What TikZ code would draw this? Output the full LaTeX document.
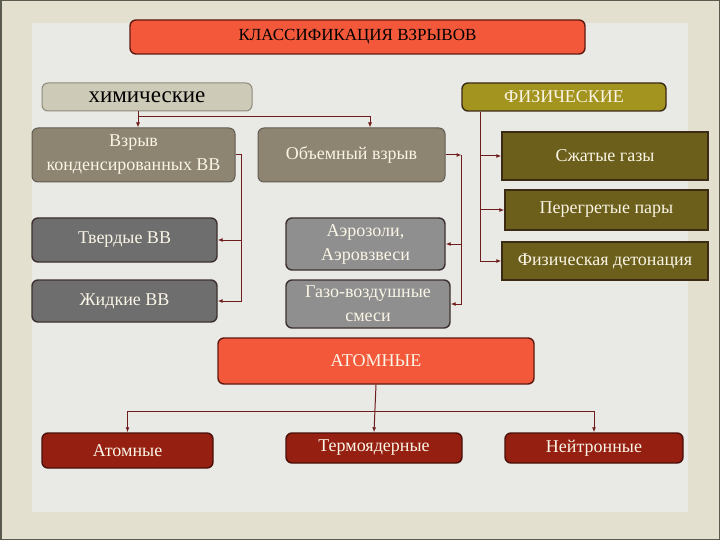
\documentclass[tikz,border=0pt]{standalone}
\usepackage{fontspec}
\setmainfont{Liberation Serif}
\usetikzlibrary{arrows.meta,positioning}
\definecolor{pagebg}{HTML}{E3E0D0}
\definecolor{innerbg}{HTML}{E9E9E6}
\definecolor{framecol}{HTML}{5A5A4E}
\definecolor{redhead}{HTML}{F4583A}
\definecolor{redline}{HTML}{5E1A10}
\definecolor{chemfill}{HTML}{CECAB8}
\definecolor{chemline}{HTML}{8E8A7A}
\definecolor{physfill}{HTML}{A39420}
\definecolor{olivedark}{HTML}{6B5F1B}
\definecolor{oliveline}{HTML}{3B2A14}
\definecolor{taupe}{HTML}{8D8472}
\definecolor{greydark}{HTML}{6E6E6E}
\definecolor{greylight}{HTML}{8F8F8F}
\definecolor{boxline}{HTML}{3E3030}
\definecolor{nucfill}{HTML}{952012}
\definecolor{nucline}{HTML}{4A1008}
\definecolor{linkcol}{HTML}{6E1C1C}
\definecolor{cream}{HTML}{FAF5E6}

\begin{document}
\begin{tikzpicture}[
    x=1pt, y=-1pt,
    box/.style={rounded corners=6pt, align=center, inner sep=2pt, line width=1.4pt, text=cream,
        font=\rmfamily\fontsize{18}{24}\selectfont},
    headbox/.style={box, fill=redhead, draw=redline},
    chembox/.style={box, fill=chemfill, draw=chemline, line width=1pt, text=black, font=\rmfamily\fontsize{23}{26}\selectfont},
    physbox/.style={box, fill=physfill, draw=oliveline},
    kindbox/.style={box, fill=taupe, draw=taupe!70!black, line width=1pt},
    subbox/.style={box, fill=greydark, draw=boxline},
    aerobox/.style={box, fill=greylight, draw=boxline},
    olivebox/.style={box, rounded corners=0pt, fill=olivedark, draw=oliveline},
    nucbox/.style={box, fill=nucfill, draw=nucline},
    link/.style={draw=linkcol, line width=1pt},
    arrow/.style={link, -{Latex[length=5pt,width=4pt]}}
]
\fill[pagebg] (0,0) rectangle (720,540);
\fill[innerbg] (32,23) rectangle (688,512);
\draw[framecol, line width=1.5pt] (0.75,0.75) rectangle (719.25,539.25);

\node[headbox, text=black, minimum width=455, minimum height=34, font=\rmfamily\fontsize{17}{20}\selectfont] (title) at (357.5,37) {КЛАССИФИКАЦИЯ ВЗРЫВОВ};
\node[chembox, minimum width=210, minimum height=28] (chem) at (147,97) {химические};
\node[physbox, minimum width=204, minimum height=28] (phys) at (564,97) {ФИЗИЧЕСКИЕ};

\node[kindbox, minimum width=203, minimum height=54] (cond) at (133.5,155) {Взрыв\\конденсированных ВВ};
\node[kindbox, minimum width=187, minimum height=54] (vol) at (351.5,155) {Объемный взрыв};

\node[olivebox, minimum width=206, minimum height=48] (gas) at (605,156) {Сжатые газы};
\node[olivebox, minimum width=203, minimum height=40] (vapor) at (606.5,210) {Перегретые пары};
\node[olivebox, minimum width=206, minimum height=38] (det) at (605,261) {Физическая детонация};

\node[subbox, minimum width=185, minimum height=44] (solid) at (124.5,240) {Твердые ВВ};
\node[subbox, minimum width=185, minimum height=42] (liquid) at (124.5,301) {Жидкие ВВ};
\node[aerobox, minimum width=159, minimum height=52] (aero) at (365.5,244) {Аэрозоли,\\Аэровзвеси};
\node[aerobox, minimum width=164, minimum height=48] (gasair) at (368,304) {Газо-воздушные\\смеси};

\node[headbox, minimum width=316, minimum height=46] (atomic) at (376,361) {АТОМНЫЕ};
\node[nucbox, minimum width=171, minimum height=35] (atom) at (127.5,450.5) {Атомные};
\node[nucbox, minimum width=176, minimum height=30] (thermo) at (374,448) {Термоядерные};
\node[nucbox, minimum width=178, minimum height=30] (neutron) at (594,448) {Нейтронные};

\coordinate (chemfork) at ([xshift=-9,yshift=-5]chem.south);
\draw[link] (chem.south -| chemfork) -- (chemfork);
\draw[arrow] (chemfork) -- (chemfork |- cond.north);
\draw[arrow] (chemfork) -| ([xshift=18.5]vol.north);

\coordinate (condbus) at ([xshift=6]cond.east);
\draw[link] (cond.east) -- (condbus) -- (condbus |- liquid.east);
\draw[arrow] (condbus |- solid.east) -- (solid.east);
\draw[arrow] (condbus |- liquid.east) -- (liquid.east);

\coordinate (volbus) at ([xshift=16]vol.east);
\draw[arrow] (vol.east) -- (volbus);
\draw[link] (volbus) -- (volbus |- gasair.east);
\draw[arrow] (volbus |- aero.east) -- (aero.east);
\draw[arrow] (volbus |- gasair.east) -- (gasair.east);

\coordinate (physbus) at ([xshift=-84]phys.south);
\draw[link] (physbus) -- (physbus |- det.west);
\draw[arrow] (physbus |- gas.west) -- (gas.west);
\draw[arrow] (physbus |- vapor.west) -- (vapor.west);
\draw[arrow] (physbus |- det.west) -- (det.west);

\coordinate (atomfork) at ([yshift=-27]atomic.south);
\draw[arrow] (atomic.south) -- (thermo.north);
\draw[arrow] (atomfork) -| (atom.north);
\draw[arrow] (atomfork) -| (neutron.north);
\end{tikzpicture}
\end{document}
